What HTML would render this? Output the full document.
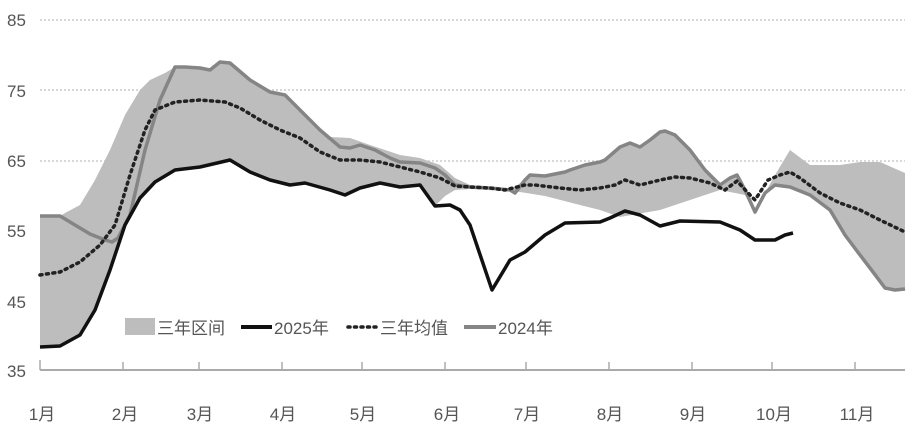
<!DOCTYPE html>
<html><head><meta charset="utf-8"><style>
html,body{margin:0;padding:0;background:#fff;}
svg{display:block;font-family:"Liberation Sans","Noto Sans CJK SC",sans-serif;}
</style></head><body>
<svg width="915" height="447" viewBox="0 0 915 447">
<g stroke="#ccc" stroke-width="1.5" stroke-dasharray="2,2">
<line x1="40" y1="20" x2="905" y2="20"/><line x1="40" y1="90" x2="905" y2="90"/><line x1="40" y1="161" x2="905" y2="161"/>
</g>
<path fill="#bdbdbd" d="M40,216 L60,216 L65,213 L80,205 L95,180 L110,150 L125,115 L140,90 L150,80 L165,73 L175,67 L185,67 L200,68 L210,70 L220,62 L230,63 L250,80 L270,92 L285,95 L300,110 L320,130 L330,137 L350,138 L370,145 L400,155 L420,158 L440,165 L455,178 L470,185 L490,188 L510,190 L525,180 L530,175 L545,176 L565,172 L570,170 L585,165 L600,162 L605,160 L620,147 L630,143 L640,147 L650,140 L660,132 L665,131 L675,135 L690,150 L705,170 L720,185 L730,178 L737,175 L745,190 L755,212 L765,193 L775,175 L790,150 L810,165 L840,165 L860,162 L880,162 L905,173 L905,289 L895,290 L885,288 L870,268 L860,255 L845,235 L830,210 L810,195 L790,187 L775,185 L765,193 L755,212 L745,195 L720,190 L690,200 L660,210 L620,217 L600,210 L580,205 L545,196 L520,192 L505,191 L470,189 L455,190 L445,196 L435,206 L420,185 L400,187 L380,183 L360,188 L345,195 L330,190 L305,183 L290,185 L270,180 L250,172 L230,160 L200,167 L175,170 L155,182 L140,198 L125,225 L110,270 L95,310 L80,335 L60,346 L40,347 Z"/>
<polyline fill="none" stroke="#858585" stroke-width="3.5" stroke-linejoin="round" points="40,216 60,216 70,222 90,234 105,240 112,242 118,238 130,215 145,150 160,100 175,67 185,67 200,68 210,70 220,62 230,63 250,80 270,92 285,95 300,110 320,130 340,147 350,148 360,145 375,150 390,158 400,162 420,163 435,168 445,175 455,185 470,187 490,188 510,190 515,193 525,180 530,175 545,176 565,172 570,170 585,165 600,162 605,160 620,147 630,143 640,147 650,140 660,132 665,131 675,135 690,150 705,170 720,185 730,178 737,175 745,190 755,212 765,193 775,185 790,187 810,195 830,210 845,235 860,255 870,268 885,288 895,290 905,289"/>
<polyline fill="none" stroke="#222" stroke-width="3.5" stroke-dasharray="2,4.5" stroke-linecap="round" points="40,275 60,272 80,262 100,245 115,225 130,175 145,130 155,110 175,102 200,100 225,102 240,108 260,120 280,130 300,138 320,152 340,160 360,160 380,162 400,167 420,172 440,178 455,186 470,187 490,188 505,190 525,185 535,185 560,188 580,190 600,188 615,185 625,180 640,185 660,180 675,177 690,178 710,183 725,190 737,181 750,195 755,200 768,180 780,175 790,172 800,178 820,193 840,203 860,210 880,220 905,232"/>
<polyline fill="none" stroke="#111" stroke-width="3.5" stroke-linejoin="round" points="40,347 60,346 80,335 95,310 110,270 125,225 140,198 155,182 175,170 200,167 230,160 250,172 270,180 290,185 305,183 330,190 345,195 360,188 380,183 400,187 420,185 435,206 450,205 460,210 470,225 492,290 510,260 525,252 545,235 565,223 600,222 610,218 625,211 640,215 660,226 680,221 720,222 740,230 755,240 775,240 785,235 793,233"/>
<line x1="40" y1="370" x2="905" y2="370" stroke="#aaa" stroke-width="2"/>
<g stroke="#aaa" stroke-width="1.5">
<line x1="40" y1="360" x2="40" y2="370"/><line x1="123" y1="362" x2="123" y2="370"/><line x1="199" y1="362" x2="199" y2="370"/><line x1="282" y1="362" x2="282" y2="370"/><line x1="362" y1="362" x2="362" y2="370"/><line x1="445" y1="362" x2="445" y2="370"/><line x1="526" y1="362" x2="526" y2="370"/><line x1="609" y1="362" x2="609" y2="370"/><line x1="692" y1="362" x2="692" y2="370"/><line x1="772" y1="362" x2="772" y2="370"/><line x1="855" y1="362" x2="855" y2="370"/>
</g>
<g fill="#555" font-size="17">
<text x="7" y="26">85</text><text x="7" y="97">75</text><text x="7" y="167">65</text><text x="7" y="237">55</text><text x="7" y="308">45</text><text x="7" y="377">35</text>
</g>
<g fill="#555" font-size="17" text-anchor="middle">
<text x="42" y="420">1月</text><text x="125" y="420">2月</text><text x="200" y="420">3月</text><text x="283" y="420">4月</text><text x="363" y="420">5月</text><text x="447" y="420">6月</text><text x="527" y="420">7月</text><text x="610" y="420">8月</text><text x="693" y="420">9月</text><text x="774" y="420">10月</text><text x="857" y="420">11月</text>
</g>
<rect x="125" y="318" width="30" height="17" fill="#bdbdbd"/>
<line x1="241" y1="327" x2="272" y2="327" stroke="#111" stroke-width="4"/>
<line x1="348" y1="327" x2="378" y2="327" stroke="#222" stroke-width="3.5" stroke-dasharray="2,4.5" stroke-linecap="round"/>
<line x1="464" y1="327" x2="496" y2="327" stroke="#858585" stroke-width="4"/>
<g fill="#555" font-size="17">
<text x="157" y="334">三年区间</text><text x="274" y="334">2025年</text><text x="380" y="334">三年均值</text><text x="498" y="334">2024年</text>
</g>
</svg>
</body></html>
